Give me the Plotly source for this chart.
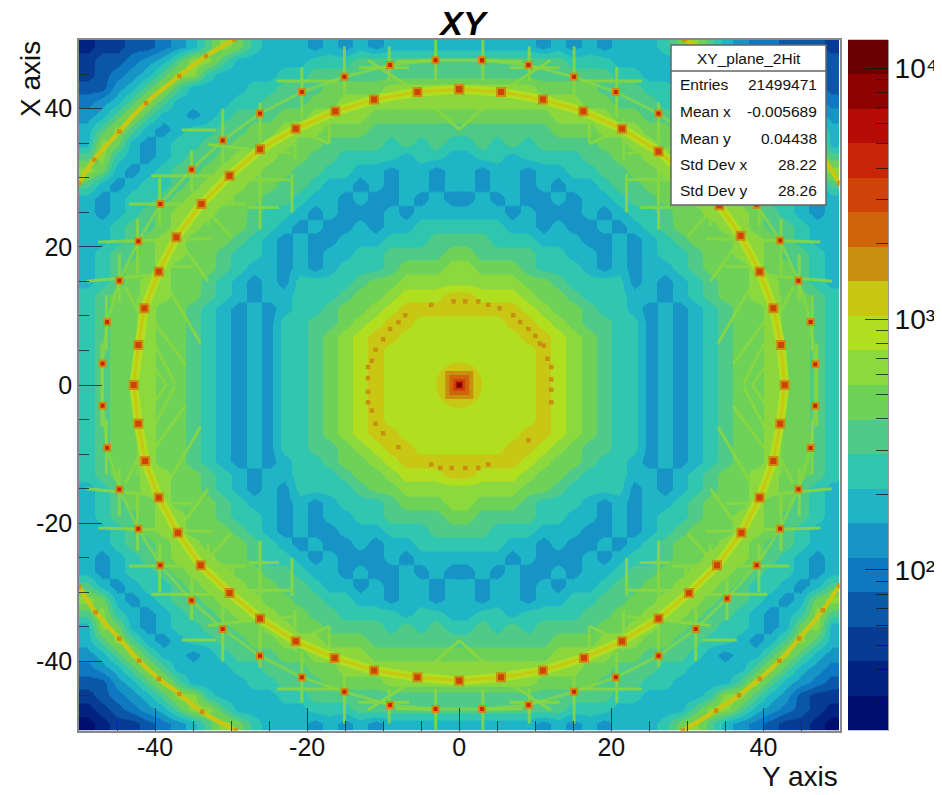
import math
import plotly.graph_objects as go

# ---- colour levels of the 20-band palette (bottom to top) ----
BAND_COLORS = ["#000f6e", "#02237f", "#083c94", "#0b57a8", "#0f78c2", "#1795c5", "#1fb5c6", "#31c6b0",
               "#4fca88", "#6fd258", "#8cd83f", "#b2de20", "#c8c814", "#c98f10", "#d0640a", "#cf4208",
               "#c92508", "#b50c06", "#8f0202", "#6b0000"]
LOG_MIN, LOG_MAX = 1.36, 4.115

# ---- coarse 2-unit map, band index per cell (0-9, a-j) ----
CELL_X = list(range(-49, 50, 2))
CELL_Y = list(range(49, -50, -2))
CELL_ROWS = [
"122334568a976665656566666" "666665656566679a865443332",
"2334568aa8666667778888888" "8888888777666668aa8654433",
"234568aa76666778888888888" "88888888887766667aa865433",
"33568a86666778889999aaaaa" "aaaaa99998887766668a86543",
"4568a866667788899aaaaaaaa" "aaaaaaaa998887766668a8654",
"568a86656788899aaaa999999" "999999aaaa99888765668a865",
"68a8656778899aaa999888888" "888888999aaa9988776568a86",
"6a9656778899aa99888878787" "78787888899aa9988776569a6",
"8a76567889aaa998877776776" "677677778899aaa98876567a8",
"a96567889aaa9988776656656" "6566566778899aaa98876569a",
"86567789aaa99887665656656" "65665656678899aaa98776568",
"6567789aaa998876656556565" "565655656678899aaa9877656",
"656789aaa9987765655565666" "6665655565677899aaa987656",
"667889aa99987656556566777" "77766565565678999aa988766",
"66789aa999876565566677788" "887776665565678999aa98766",
"67889aa998776565667788889" "988887766565677899aa98876",
"67899a999876656567778999a" "a999877765656678999a99876",
"6789aa998765657777899aaaa" "aaaa998777756567899aa9876",
"7899aa99876566777899abbbc" "cbbba99877766567899aa9987",
"7899a99876565677899abcccc" "ccccba99877656567899a9987",
"7899a9987656577889abccbbb" "bbbccba9887756567899a9987",
"7899a998765657789abccbbbb" "bbbbccba987756567899a9987",
"7899a998765657789abcbbbbb" "bbbbbcba987756567899a9987",
"7899a998765657789abcbbbbb" "bbbbbcba987756567899a9987",
"7899a998765657789abcbbbbb" "bbbbbcba987756567899a9987",
"7899a998765657789abcbbbbb" "bbbbbcba987756567899a9987",
"7899a998765657789abcbbbbb" "bbbbbcba987756567899a9987",
"7899a998765657789abcbbbbb" "bbbbbcba987756567899a9987",
"7899a998765657789abccbbbb" "bbbbccba987756567899a9987",
"7899a9987656577889abccbbb" "bbbccba9887756567899a9987",
"7899a99876565677899abcccc" "ccccba99877656567899a9987",
"7899aa99876566777899abbbc" "cbbba99877766567899aa9987",
"6789aa998765657777899aaaa" "aaaa998777756567899aa9876",
"67899a999876656567778999a" "a999877765656678999a99876",
"67889aa998776565667788889" "988887766565677899aa98876",
"66789aa999876565566677788" "887776665565678999aa98766",
"667889aa99987656556566777" "77766565565678999aa988766",
"656789aaa9987765655565666" "6665655565677899aaa987656",
"6567789aaa998876656556565" "565655656678899aaa9877656",
"86567789aaa99887665656656" "65665656678899aaa98776568",
"a96567889aaa9988776656656" "6566566778899aaa98876569a",
"8a76567889aaa998877776776" "677677778899aaa98876567a8",
"6a9656778899aa99888878787" "78787888899aa9988776569a6",
"68a8656778899aaa999888888" "888888999aaa9988776568a86",
"568a86656788899aaaa999999" "999999aaaa99888765668a865",
"4568a866667788899aaaaaaaa" "aaaaaaaa998887766668a8654",
"33568a86666778889999aaaaa" "aaaaa99998887766668a86543",
"234568aa76666778888888888" "88888888887766667aa865322",
"1234568aa8666667778888888" "8888888777666668aa8654321",
"012234568a976665656566666" "666665656566679a865432210",
]

# ---- bright spots ----
RING_X = [0, 5.5, 11, 16.3, 21.4, 26.2, 30.2, 34.2, 37, 39.5, 41.3, 42.3, 42.8, 42.2, 41.3, 39.5, 37.1, 33.9, 30.2, 26.2,
          21.4, 16.4, 11, 5.5, 0, -5.5, -11.2, -16.4, -21.5, -26.2, -30.2, -34, -37, -39.5, -41.3, -42.2, -42.8, -42.2,
          -41.4, -39.5, -37.2, -33.9, -30.2, -26.2, -21.5, -16.3, -11.2, -5.5, 0]
RING_Y = [42.8, 42.4, 41.3, 39.6, 37.1, 33.8, 30.2, 26, 21.6, 16.4, 11.1, 5.8, 0, -5.6, -11, -16.3, -21.4, -26.1, -30.1, -33.8,
          -37.1, -39.5, -41.3, -42.3, -42.8, -42.3, -41.3, -39.5, -37.1, -33.8, -30.1, -26.1, -21.4, -16.3, -11, -5.6, 0, 5.8,
          11.1, 16.4, 21.4, 26.2, 30.3, 34.1, 37.1, 39.6, 41.3, 42.4, 42.8]
OUTER_X = [3, 9.1, 15.1, 20.6, 26.2, 31.1, 35.2, 39.1, 42.2, 44.6, 46.2, 46.8, 46.8, 46.2, 44.6, 42.2, 39.1, 35.2, 31.1, 26.2,
           20.6, 15.1, 9.1, 3, -3.1, -9.1, -15.1, -20.7, -26.2, -31.1, -35.2, -39.3, -42.2, -44.7, -46.3, -46.9, -46.9,
           -46.3, -44.7, -42.2, -39.3, -35.2, -31.1, -26.2, -20.7, -15.1, -9.1, -3.1, 3]
OUTER_Y = [47, 46.3, 44.6, 42.4, 39.3, 35.4, 31.2, 26.1, 20.9, 15.1, 9.1, 3, -3, -9.1, -15.1, -20.8, -26.1, -30.9, -35.3, -39.2,
           -42.3, -44.4, -46.3, -46.9, -46.9, -46.3, -44.4, -42.3, -39.2, -35.3, -31.2, -26.1, -20.8, -15.1, -9.1, -3, 3.1,
           9.1, 15.1, 20.8, 26.2, 31.2, 35.4, 39.3, 42.4, 44.6, 46.3, 47, 47]

# ---- dashes on the r = 12 ring ----
DASH_X = [-3.7, -0.75, 0.8, 2.5, 3.8, 5.3, 7.1, 8, 9.1, 10, 10.6, 11.1, 11.6, 12.1, 12.1, 12.1, 12.1, 9.1, 3.8, 2.5, 0.8,
          -1, -2.5, -3.7, -8, -10, -11, -11.5, -12, -12, -12, -12, -11.5, -11, -10, -9.1, -8, -7.1]
DASH_Y = [11.6, 12.1, 12.1, 12.1, 11.6, 11.1, 10.1, 9.1, 8.1, 7.1, 6, 5.7, 3.8, 2.6, 0.8, -0.7, -2.5, -8, -11.5, -12, -12,
          -12, -12, -11.5, -9, -7, -5.6, -3.7, -2.5, -1, 1, 2.6, 3.5, 5.1, 6.6, 8.1, 9.1, 10.1]

# ---- corner arcs ----
ARC_TL_X = [-50, -48, -44.7, -41.2, -36.8, -33.3, -29.6]
ARC_TL_Y = [29.2, 32.6, 36.7, 40.8, 44.7, 47.6, 50]
ARC_TR_X = [29.6, 33.3, 36.8, 41.2, 44.7, 48, 50]
ARC_TR_Y = [50, 47.6, 44.7, 40.8, 36.7, 32.6, 29.2]
ARC_BL_X = [-50, -47.8, -44.7, -42.1, -39.5, -36.8, -33.8, -29.4]
ARC_BL_Y = [-29.2, -32.9, -36.7, -39.9, -42.5, -44.7, -47.3, -50]
ARC_BR_X = [50, 47.8, 44.7, 42.1, 39.5, 36.8, 33.8, 29.4]
ARC_BR_Y = [-29, -32.6, -36.7, -39.9, -42.5, -44.9, -47.1, -50]

# ---- straight streaks, read in the upper-left quadrant; they recur in all four ----
STREAK_X1 = [-43.4, -47.5, -49, -40, -40.5, -36.5, -33, -27.9, -27.6, -24, -13.2, -9.6, -8.3, -26.2, -21.6, -20.7, -22, -31.1,
             -35.2, -33, -29.8, -39.4, -42.3, -15.1, -9.2, -3.1, -17.1, -42.2, -46.4, -47, -44.7, -43.9, -5.5, -13, -12,
             -39.5, -41.4, -42.2, -37.2, -21.5, -33.9]
STREAK_Y1 = [26.2, 20.7, 15, 17.1, 30.3, 36.9, 34.8, 29.7, 25.7, 44, 45.9, 42.4, 46.8, 40.9, 38.5, 46, 30.5, 40,
             34, 26, 30, 30, 24, 49, 49, 50, 38, 13, 13, 6, 19, 14.2, 42.4, 41, 47,
             16.4, 11.1, 5.8, 21.4, 37.1, 26.2]
STREAK_X2 = [-28, -32.5, -39.5, -35, -29.5, -32, -22, -21.9, -23.7, -16, -6.6, 0, -3, -26.2, -21.6, -20.7, -22, -31.1,
             -35.2, -33, -29.8, -39.4, -42.3, -15.1, -9.2, -3.1, -17.1, -42.2, -46.4, -47, -44.7, -37.4, 0, -8.5, -5.5,
             -34, -36, -38.5, -33, -17.1, -30]
STREAK_Y2 = [26.2, 21.2, 16, 17.1, 30.3, 36.9, 33.5, 29.7, 25.7, 44, 45.9, 42.4, 47, 22.5, 32.6, 38.5, 25, 32,
             28, 23, 26, 23, 16, 40, 44, 44, 35, 0, 5, 0, 12, 0.2, 37, 40, 42.4,
             6, 3, 0, 15, 34.9, 21.5]

CENTER_LEVELS = [12, 13, 14, 15, 17, 19]

# ---- text ----
TITLE_TEXT = "XY"
X_TITLE = "Y axis"
Y_TITLE = "X axis"
STAT_TITLE = "XY_plane_2Hit"
STAT_LABELS = ["Entries", "Mean x", "Mean y", "Std Dev x", "Std Dev y"]
STAT_VALUES = ["21499471", "-0.005689", "0.04438", "28.22", "28.26"]
TICK_VALUES = [-40, -20, 0, 20, 40]
TICK_LABELS = ["-40", "-20", "0", "20", "40"]
MINOR_TICKS = [-45, -35, -30, -25, -15, -10, -5, 5, 10, 15, 25, 30, 35, 45]
BAR_MAJOR = [2, 3, 4]
BAR_LABELS = ["10²", "10³", "10⁴"]
BAR_MINOR_COUNTS = [30, 40, 50, 60, 70, 80, 90, 200, 300, 400, 500, 600, 700, 800, 900,
                    2000, 3000, 4000, 5000, 6000, 7000, 8000, 9000]

PAGE_MARGIN = 8  # the page body's default margin
W, H = 942 - PAGE_MARGIN, 795 - PAGE_MARGIN
FONT = "Liberation Sans"
BAND = (LOG_MAX - LOG_MIN) / len(BAND_COLORS)


def level_z(level):
    return LOG_MIN + (level + 0.5) * BAND


def px(x):
    return (x - PAGE_MARGIN) / W


def py(y):
    return 1 - (y - PAGE_MARGIN) / H


scale = []
for i, c in enumerate(BAND_COLORS):
    scale += [[i / 20, c], [(i + 1) / 20, c]]

z = [[level_z(int(ch, 20)) for ch in row[:50].ljust(50, row[-1])] for row in CELL_ROWS]

fig = go.Figure()
fig.add_trace(go.Heatmap(x=CELL_X, y=CELL_Y, z=z, coloraxis="coloraxis", zsmooth="best", hoverinfo="skip"))

# streaks
sx, sy = [], []
for mx, my in ((1, 1), (-1, 1), (1, -1), (-1, -1)):
    for x1, y1, x2, y2 in zip(STREAK_X1, STREAK_Y1, STREAK_X2, STREAK_Y2):
        sx += [mx * x1, mx * x2, None]
        sy += [my * y1, my * y2, None]
fig.add_trace(go.Scatter(x=sx, y=sy, mode="lines", line=dict(color=BAND_COLORS[10], width=3), opacity=0.85, hoverinfo="skip"))
# outer chain and main ring
fig.add_trace(go.Scatter(x=OUTER_X, y=OUTER_Y, mode="lines", line=dict(color=BAND_COLORS[10], width=3), opacity=0.7, hoverinfo="skip"))
fig.add_trace(go.Scatter(x=RING_X, y=RING_Y, mode="lines", line=dict(color=BAND_COLORS[11], width=9), hoverinfo="skip"))
fig.add_trace(go.Scatter(x=RING_X, y=RING_Y, mode="lines", line=dict(color=BAND_COLORS[12], width=3), hoverinfo="skip"))
# corner arcs
for ax, ay in ((ARC_TL_X, ARC_TL_Y), (ARC_TR_X, ARC_TR_Y), (ARC_BL_X, ARC_BL_Y), (ARC_BR_X, ARC_BR_Y)):
    fig.add_trace(go.Scatter(x=ax, y=ay, mode="lines", line=dict(color=BAND_COLORS[12], width=4.5, shape="spline"),
                             hoverinfo="skip"))
    fig.add_trace(go.Scatter(x=ax, y=ay, mode="markers", marker=dict(symbol="square", size=4.5, color=BAND_COLORS[13]),
                             hoverinfo="skip"))


def add_squares(xs, ys, level, size, symbol="square"):
    fig.add_trace(go.Scatter(x=xs, y=ys, mode="markers", hoverinfo="skip",
                             marker=dict(symbol=symbol, size=size, color=[level_z(level)] * len(xs),
                                         coloraxis="coloraxis", line=dict(width=0))))


add_squares(DASH_X, DASH_Y, 13, 4.5)
add_squares(RING_X, RING_Y, 13, 10)
add_squares(RING_X, RING_Y, 15, 6)
add_squares(OUTER_X, OUTER_Y, 13, 8)
add_squares(OUTER_X, OUTER_Y, 16, 4)
for level, size in zip(CENTER_LEVELS, (46, 28, 20, 12, 7, 4)):
    add_squares([0], [0], level, size, "circle" if size == 46 else "square")

# colour strip drawn as its own axis pair
mids = [level_z(i) for i in range(20)]
fig.add_trace(go.Heatmap(x=[0], y=mids, z=[[m] for m in mids], coloraxis="coloraxis", xaxis="x2", yaxis="y2",
                         hoverinfo="skip"))

tick_font = dict(family=FONT, size=25, color="#111")
axis_common = dict(range=[-50, 50], tickmode="array", tickvals=TICK_VALUES, ticktext=TICK_LABELS, ticks="inside",
                   ticklen=23, tickwidth=1, tickcolor="rgba(20,50,50,0.85)", tickfont=tick_font, showgrid=False, zeroline=False,
                   showline=True, linecolor="#888", linewidth=1.5, mirror=True, tickangle=0,
                   minor=dict(tickmode="array", tickvals=MINOR_TICKS, ticks="inside", ticklen=10, tickwidth=1,
                              tickcolor="rgba(20,50,50,0.85)", showgrid=False))

fig.update_layout(
    width=W, height=H, margin=dict(l=0, r=0, t=0, b=0), paper_bgcolor="white", plot_bgcolor="white", showlegend=False,
    title=dict(text="<b><i>" + TITLE_TEXT + "</i></b>", x=px(463), y=py(23), xanchor="center", yanchor="middle",
               font=dict(family=FONT, size=34, color="black")),
    coloraxis=dict(colorscale=scale, cmin=LOG_MIN, cmax=LOG_MAX, showscale=False),
    xaxis=dict(domain=[px(79), px(839.5)], anchor="y", ticklabelstandoff=-6, **axis_common),
    yaxis=dict(domain=[py(730.5), py(39.5)], anchor="x", **axis_common),
    xaxis2=dict(domain=[px(848), px(888)], anchor="y2", visible=False, range=[-0.5, 0.5]),
    yaxis2=dict(domain=[py(730.5), py(39.5)], anchor="x2", side="right", range=[LOG_MIN, LOG_MAX], tickmode="array",
                tickvals=BAR_MAJOR, ticktext=BAR_LABELS, ticks="inside", ticklen=23, tickwidth=1,
                tickcolor="rgba(20,20,20,0.75)", tickfont=dict(family=FONT, size=28, color="#111"), showgrid=False,
                zeroline=False, showline=True, linecolor="#999", linewidth=1,
                minor=dict(tickmode="array", tickvals=[math.log10(v) for v in BAR_MINOR_COUNTS], ticks="inside",
                           ticklen=12, tickwidth=1, tickcolor="rgba(20,20,20,0.75)", showgrid=False)),
)

# statistics box
fig.add_shape(type="rect", xref="paper", yref="paper", x0=px(671), x1=px(826), y0=py(205), y1=py(45),
              fillcolor="white", line=dict(color="#666", width=1.5))
fig.add_shape(type="line", xref="paper", yref="paper", x0=px(671), x1=px(826), y0=py(71), y1=py(71),
              line=dict(color="#666", width=1.5))
notes = [dict(x=px(748.5), y=py(58), text=STAT_TITLE, xanchor="center", font=dict(family=FONT, size=15.5, color="#111"))]
for label, value, yy in zip(STAT_LABELS, STAT_VALUES, (85, 111.5, 138, 165, 191)):
    notes.append(dict(x=px(679), y=py(yy), text=label, xanchor="left", font=dict(family=FONT, size=15.5, color="#111")))
    notes.append(dict(x=px(818), y=py(yy), text=value, xanchor="right", font=dict(family=FONT, size=15.5, color="#111")))
notes.append(dict(x=px(839), y=py(776), text=X_TITLE, xanchor="right", font=dict(family=FONT, size=28, color="#111")))
notes.append(dict(x=px(30), y=py(40), text=Y_TITLE, textangle=-90, xanchor="center", yanchor="top",
                  font=dict(family=FONT, size=28, color="#111")))
for n in notes:
    n.setdefault("yanchor", "middle")
    fig.add_annotation(xref="paper", yref="paper", showarrow=False, borderpad=0, **n)

fig.write_html("out.html")
